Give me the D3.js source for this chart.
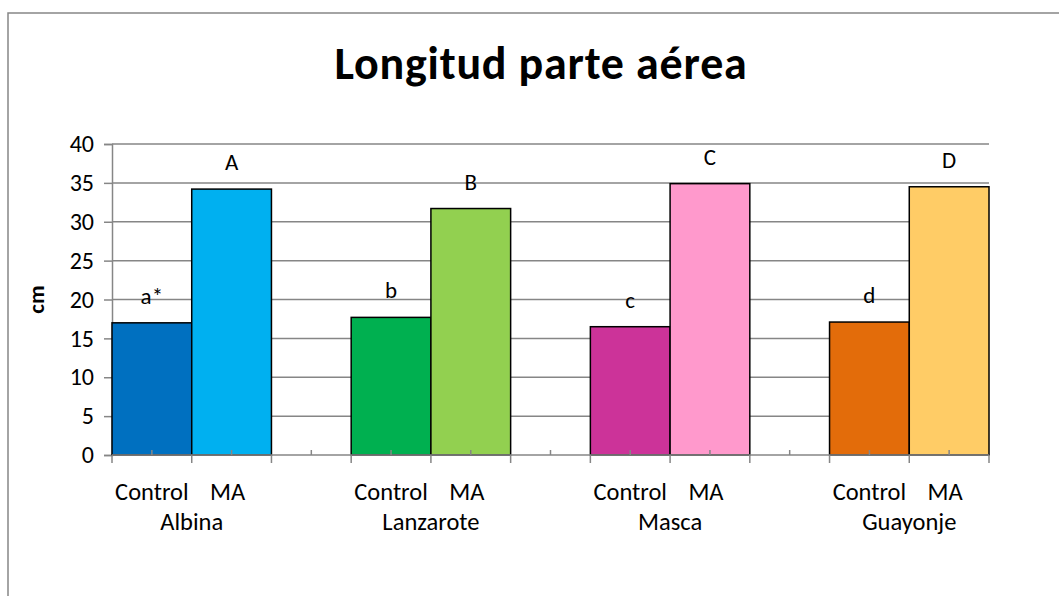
<!DOCTYPE html>
<html>
<head>
<meta charset="utf-8">
<style>
  body { margin: 0; background: #fff; }
  svg { display: block; font-family: Carlito, Lato, "Open Sans", sans-serif; }
</style>
</head>
<body>
<svg width="1059" height="596"></svg>
<script src="https://d3js.org/d3.v7.min.js"></script>
<script>
// data
const sites = ["Albina", "Lanzarote", "Masca", "Guayonje"];
const treatments = ["Control", "MA"];
const controlValues = [17.0, 17.7, 16.5, 17.1];
const maValues = [34.2, 31.7, 34.9, 34.5];
const controlLetters = ["a*", "b", "c", "d"];
const maLetters = ["A", "B", "C", "D"];
const controlColors = ["#0070c0", "#00b050", "#cc3399", "#e36c0a"];
const maColors = ["#00b0f0", "#92d050", "#ff99cc", "#ffcc66"];
const yTicks = [0, 5, 10, 15, 20, 25, 30, 35, 40];

const width = 1059, height = 596;
const margin = {top: 144, right: 70, bottom: 141, left: 112};
const svg = d3.select("svg");

// outer chart frame (only top and left show)
svg.append("path")
    .attr("d", `M8,${height + 2}V13H${width + 2}`)
    .attr("fill", "none")
    .attr("stroke", "#868686")
    .attr("stroke-width", 1.5);

// category slots: Control, MA, gap for each site (last gap dropped)
const slots = [];
sites.forEach((s, i) => {
    slots.push({site: i, t: 0, key: s + "_c"});
    slots.push({site: i, t: 1, key: s + "_m"});
    if (i < sites.length - 1) slots.push({site: i, t: -1, key: s + "_gap"});
});

const x = d3.scaleBand()
    .domain(slots.map(d => d.key))
    .range([margin.left, width - margin.right])
    .padding(0);

const y = d3.scaleLinear()
    .domain([0, 40])
    .range([height - margin.bottom, margin.top]);

// gridlines
svg.append("g")
    .selectAll("line")
    .data(yTicks.filter(d => d > 0))
    .join("line")
    .attr("x1", margin.left)
    .attr("x2", width - margin.right)
    .attr("y1", d => y(d))
    .attr("y2", d => y(d))
    .attr("stroke", "#868686")
    .attr("stroke-width", 1.5);

// y axis
svg.append("g")
    .attr("transform", `translate(${margin.left},0)`)
    .call(d3.axisLeft(y).tickValues(yTicks).tickSize(8).tickPadding(10))
    .call(g => g.selectAll("line").attr("stroke", "#868686").attr("stroke-width", 1.5))
    .call(g => g.select(".domain").attr("stroke", "#868686").attr("stroke-width", 1.5))
    .call(g => g.selectAll("text")
        .attr("font-family", "Carlito, Lato, 'Open Sans', sans-serif")
        .attr("font-size", 24)
        .attr("fill", "#000"));

// bars
const barData = [];
sites.forEach((s, i) => {
    barData.push({key: s + "_c", v: controlValues[i], c: controlColors[i], lab: controlLetters[i]});
    barData.push({key: s + "_m", v: maValues[i], c: maColors[i], lab: maLetters[i]});
});

svg.append("g")
    .selectAll("rect")
    .data(barData)
    .join("rect")
    .attr("x", d => x(d.key))
    .attr("width", x.bandwidth())
    .attr("y", d => y(d.v))
    .attr("height", d => y(0) - y(d.v))
    .attr("fill", d => d.c)
    .attr("stroke", "#000")
    .attr("stroke-width", 1.5);

// significance letters
svg.append("g")
    .selectAll("text")
    .data(barData)
    .join("text")
    .attr("x", d => x(d.key) + x.bandwidth() / 2)
    .attr("y", d => y(d.v) - 19)
    .attr("text-anchor", "middle")
    .attr("font-size", 23)
    .text(d => d.lab);

// x axis line with ticks
const xAxisG = svg.append("g");
xAxisG.append("line")
    .attr("x1", margin.left)
    .attr("x2", width - margin.right)
    .attr("y1", y(0))
    .attr("y2", y(0))
    .attr("stroke", "#868686")
    .attr("stroke-width", 1.5);
const bounds = slots.map(d => x(d.key)).concat([width - margin.right]);
xAxisG.selectAll("line.major")
    .data(bounds)
    .join("line")
    .attr("class", "major")
    .attr("x1", d => d).attr("x2", d => d)
    .attr("y1", y(0)).attr("y2", y(0) + 8)
    .attr("stroke", "#868686")
    .attr("stroke-width", 1.5);
xAxisG.selectAll("line.minor")
    .data(slots)
    .join("line")
    .attr("class", "minor")
    .attr("x1", d => x(d.key) + x.bandwidth() / 2)
    .attr("x2", d => x(d.key) + x.bandwidth() / 2)
    .attr("y1", y(0) - 5).attr("y2", y(0))
    .attr("stroke", "#868686")
    .attr("stroke-width", 1.5);

// treatment labels
svg.append("g")
    .selectAll("text")
    .data(slots.filter(d => d.t >= 0))
    .join("text")
    .attr("x", d => x(d.key) + x.bandwidth() / 2 + (d.t === 0 ? 0 : -4))
    .attr("y", y(0) + 45)
    .attr("text-anchor", "middle")
    .attr("font-size", 24.5)
    .text(d => treatments[d.t]);

// site labels
svg.append("g")
    .selectAll("text")
    .data(sites)
    .join("text")
    .attr("x", s => x(s + "_m"))
    .attr("y", y(0) + 75)
    .attr("text-anchor", "middle")
    .attr("font-size", 24.5)
    .text(s => s);

// y label
svg.append("text")
    .attr("transform", `translate(44,${y(20)}) rotate(-90)`)
    .attr("text-anchor", "middle")
    .attr("font-size", 23)
    .attr("font-weight", "bold")
    .text("cm");

// title
svg.append("text")
    .attr("x", 541)
    .attr("y", 79)
    .attr("text-anchor", "middle")
    .attr("font-size", 46)
    .attr("font-weight", "bold")
    .attr("letter-spacing", 0.8)
    .text("Longitud parte aérea");
</script>
</body>
</html>
